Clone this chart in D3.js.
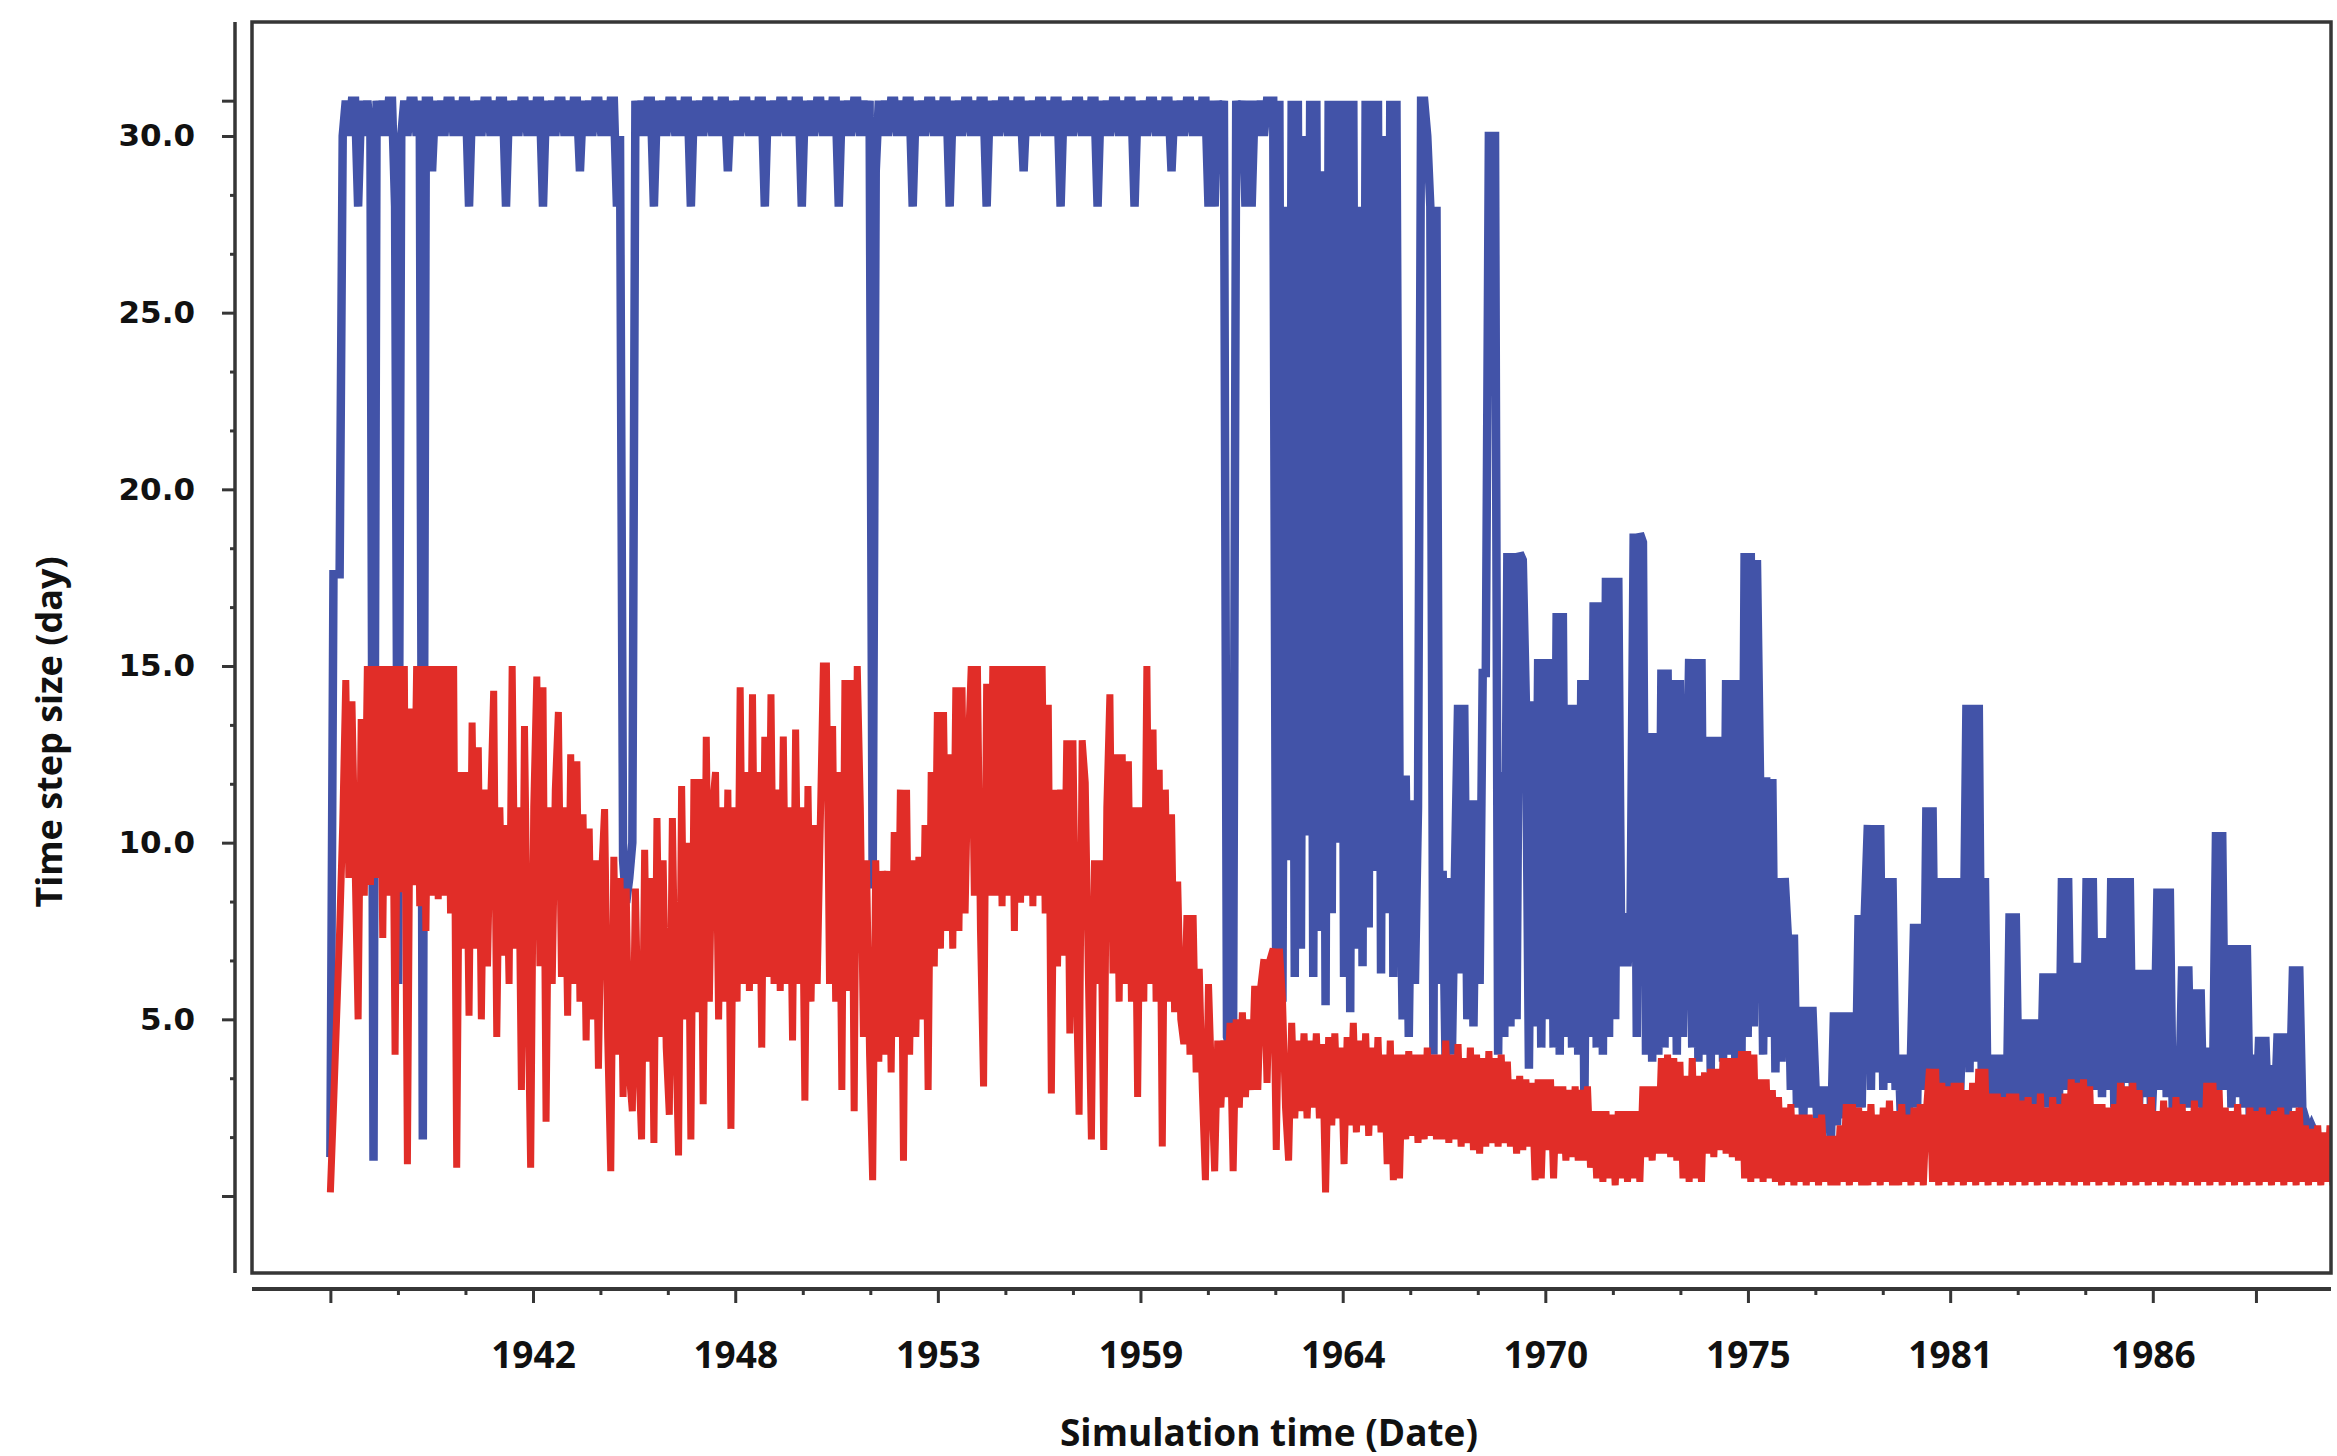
<!DOCTYPE html>
<html>
<head>
<meta charset="utf-8">
<script src="https://cdn.jsdelivr.net/npm/d3@7"></script>
<style>
  html, body { margin: 0; padding: 0; background: #fff; }
  svg { display: block; }
</style>
</head>
<body>
<svg id="chart" width="2337" height="1456"></svg>
<script>
// time step sizes, one sample per month from May 1937 (decimal years)
var sampleStart = 1937.34;
var sampleStep = 1 / 12;

// blue run, one row per year (May..Apr)
var blueValues = [
  1.1,17.6,17.6,17.6,30,31,30,31,31,28,31,30,
  31,30,1.0,31,30,31,30,31,31,28,6.0,30,
  31,30,31,31,30,31,1.6,31,31,29,31,30,
  31,30,31,31,30,31,30,31,31,28,31,30,
  31,30,31,31,30,31,30,31,31,28,31,30,
  31,30,31,31,30,31,30,31,31,28,31,30,
  31,30,31,31,30,31,30,31,31,29,31,30,
  31,30,31,31,30,31,30,31,31,28,30,9.5,
  8.3,9.0,10,31,30,31,30,31,31,28,31,30,
  31,30,31,31,30,31,30,31,31,28,31,30,
  31,30,31,31,30,31,30,31,31,29,31,30,
  31,30,31,31,30,31,30,31,31,28,31,30,
  31,30,31,31,30,31,30,31,31,28,31,30,
  31,30,31,31,30,31,30,31,31,28,31,30,
  31,30,31,31,30,31,30,31,8.7,29,31,30,
  31,30,31,31,30,31,30,31,31,28,31,30,
  31,30,31,31,30,31,30,31,31,28,31,30,
  31,30,31,31,30,31,30,31,31,28,31,30,
  31,30,31,31,30,31,30,31,31,29,31,30,
  31,30,31,31,30,31,30,31,31,28,31,30,
  31,30,31,31,30,31,30,31,31,28,31,30,
  31,30,31,31,30,31,30,31,31,28,31,30,
  31,30,31,31,30,31,30,31,31,29,31,30,
  31,30,31,31,30,31,30,31,31,28,31,28,
  31,30,31,4.5,4.2,5.0,31,30,31,28,31,28,
  31,30,31,30,31,31,31,5.2,31,5.5,28,9.5,
  31,6.2,31,7.0,30,10.2,31,6.2,31,7.5,29,5.4,
  31,8.0,31,10.0,31,6.2,31,5.2,31,7.0,28,6.5,
  31,7.6,31,9.2,31,6.3,30,8.0,31,6.2,31,11.5,
  5.0,11.9,4.5,11.2,6.0,11.0,31,31,30,28,4.0,28,
  6.0,9.2,3.5,9.0,4.0,9.2,13.9,6.3,13.9,5.0,11.2,4.8,
  11.2,6.0,14.8,14.8,30,30,30,4.0,12.0,4.5,18.2,4.8,
  18.2,5.0,18.2,18.0,14.0,3.6,14.0,4.8,15.2,4.2,15.2,5.0,
  15.2,4.2,16.5,4.0,16.5,4.5,13.9,4.2,13.9,4.0,14.6,2.4,
  14.6,4.5,16.8,4.2,16.8,4.0,17.5,4.5,17.5,5.0,17.5,6.5,
  8.0,6.5,8.0,18.75,4.5,18.75,18.5,4.0,13.1,3.8,13.1,4.0,
  14.9,4.2,14.9,4.5,14.6,4.0,14.6,4.5,10.0,15.2,4.2,15.2,
  3.8,15.2,4.0,13.0,3.5,13.0,4.0,13.0,3.8,14.6,4.0,14.6,
  3.5,14.6,4.0,18.2,4.5,18.2,4.8,18.0,11.85,4.0,11.85,4.5,
  11.8,3.5,9.0,3.8,9.0,7.4,3.0,7.4,2.5,5.35,2.0,5.35,
  2.5,5.35,3.1,1.5,3.1,1.8,3.1,1.5,5.2,2.0,5.2,2.2,
  5.2,2.0,5.2,2.5,7.95,2.5,7.95,10.5,3.0,10.5,3.5,10.5,
  3.0,9.0,3.2,9.0,3.0,4.0,1.5,4.0,2.0,4.0,7.7,2.5,
  7.7,3.0,11.0,3.0,11.0,3.5,9.0,3.0,9.0,2.8,9.0,3.0,
  9.0,3.0,6.0,13.9,3.5,13.9,3.8,13.9,3.0,9.0,1.5,4.0,
  1.8,4.0,1.5,4.0,2.0,8.0,2.5,8.0,2.5,3.0,5.0,2.0,
  5.0,2.2,5.0,2.5,6.3,2.5,6.3,2.8,6.3,2.5,9.0,3.0,
  9.0,3.0,6.6,2.5,6.6,3.0,9.0,3.0,9.0,3.0,7.3,2.8,
  7.3,3.0,9.0,2.5,9.0,3.0,9.0,3.2,9.0,3.0,6.4,2.5,
  6.4,2.8,6.4,2.0,4.0,8.7,3.0,8.7,2.8,8.7,2.0,4.2,
  2.5,6.5,2.5,6.5,2.5,5.85,2.5,5.85,2.0,4.2,2.0,3.0,
  10.3,3.0,10.3,3.0,7.1,2.5,7.1,2.8,7.1,2.5,7.1,2.0,
  4.0,2.2,4.5,2.0,4.5,2.0,3.7,2.2,4.6,2.0,4.6,2.2,
  3.0,6.5,2.5,6.5,2.5,2.2,1.8,2.0,1.8
];

// red run, same monthly grid
var redValues = [
  0.1,2.5,5.0,7.5,10.5,14.6,9.0,14.0,9.5,5.0,13.5,8.5,
  15,8.8,15,9.0,15,7.3,15,8.5,15,4.0,15,8.6,
  15,0.9,13.8,8.8,15,8.2,15,7.5,15,8.5,15,8.4,
  15,8.5,15,8.0,15,0.8,12.0,7.0,12.0,5.1,13.4,7.0,
  12.7,5.0,11.5,6.5,11.0,14.3,4.5,11.0,6.8,10.5,6.0,15.0,
  7.0,11.0,3.0,13.3,6.5,0.8,11.0,14.7,6.5,14.4,2.1,11.0,
  6.0,11.5,13.7,6.2,11.0,5.1,12.5,6.0,12.3,5.5,10.8,4.4,
  10.4,5.0,9.5,3.6,9.0,10.95,4.5,0.7,9.6,4.0,9.0,2.8,
  8.7,3.5,2.4,8.7,4.0,1.6,9.8,3.8,9.0,1.5,10.7,4.5,
  9.5,4.2,2.3,10.7,5.0,1.15,11.6,5.0,10.0,1.6,11.8,5.2,
  11.8,2.6,13.0,5.5,11.0,12.0,5.0,11.0,5.5,11.5,1.9,11.0,
  5.5,14.4,6.0,12.0,5.8,14.2,6.0,12.0,4.2,13.0,6.2,14.2,
  6.0,11.5,5.8,13.0,6.0,11.0,4.4,13.2,6.0,11.0,2.7,11.6,
  5.5,10.5,6.0,10.5,15.0,15.0,6.0,13.3,5.5,12.0,3.0,14.6,
  5.8,14.6,2.4,15.0,11.0,4.5,9.5,4.0,0.45,9.5,3.8,9.2,
  4.0,9.2,3.5,10.3,4.5,11.5,1.0,11.5,4.0,9.5,4.5,9.6,
  5.0,10.5,3.0,12.0,6.5,13.7,7.0,13.7,7.5,12.5,7.0,14.4,
  7.5,14.4,8.0,12.5,15.0,8.5,15.0,7.5,3.1,14.5,8.5,15.0,
  8.5,15.0,8.2,15.0,8.5,15.0,7.5,15.0,8.3,15.0,8.5,15.0,
  8.2,15.0,8.5,15.0,8.0,13.9,2.9,11.5,6.5,11.5,6.8,12.9,
  4.6,12.9,6.5,2.3,12.9,11.7,6.3,1.6,9.5,6.0,9.5,1.3,
  11.0,14.2,6.3,12.5,5.5,12.5,6.0,12.3,5.5,11.0,2.8,11.0,
  5.5,15.0,6.0,13.2,5.5,12.06,1.4,11.5,5.5,10.8,5.2,8.9,
  5.0,4.3,7.95,4.0,7.95,3.5,6.43,3.0,0.45,6.0,3.2,0.7,
  4.4,2.5,4.4,2.8,4.9,0.7,5.0,2.5,5.2,2.8,5.0,3.0,
  5.95,3.0,5.95,6.7,3.2,6.7,7.0,1.3,7.0,5.6,2.5,1.0,
  4.9,2.2,4.4,2.4,4.6,2.2,4.4,2.5,4.6,2.2,4.3,0.1,
  4.5,2.0,4.6,2.2,4.2,0.9,4.5,2.0,4.9,1.8,4.4,2.0,
  4.6,1.7,4.2,2.0,4.5,1.8,4.0,0.9,4.4,0.45,4.0,0.5,
  4.0,1.6,4.1,1.7,4.0,1.5,4.0,1.6,4.2,1.7,4.0,1.6,
  4.0,1.6,4.4,1.5,4.0,1.6,4.3,1.4,3.9,1.5,4.2,1.3,
  4.0,1.2,3.9,1.4,4.1,1.5,3.9,1.4,4.0,1.5,3.8,1.4,
  3.3,1.2,3.4,1.3,3.3,1.4,3.2,0.45,3.3,0.5,3.3,1.3,
  3.3,0.5,3.1,1.2,3.1,1.0,3.0,1.1,3.1,1.0,3.0,1.0,
  3.1,0.8,2.4,0.5,2.4,0.4,2.4,0.5,2.3,0.3,2.4,0.5,
  2.4,0.4,2.4,0.5,2.4,0.4,3.1,1.1,3.1,1.0,3.1,1.2,
  3.9,1.2,4.0,1.1,3.9,1.0,3.8,0.5,3.4,0.4,3.9,0.5,
  3.4,0.4,3.5,1.2,3.6,1.1,3.6,1.3,3.9,1.2,3.9,1.1,
  3.9,1.0,4.1,0.5,4.1,0.4,4.0,0.5,3.3,0.4,3.3,0.5,
  3.0,0.4,2.8,0.3,2.5,0.4,2.6,0.3,2.3,0.4,2.3,0.3,
  2.3,0.4,2.2,0.3,2.3,0.4,1.7,0.3,1.7,0.3,2.0,0.4,
  2.6,0.3,2.6,0.4,2.5,0.3,2.4,0.3,2.6,0.4,2.3,0.3,
  2.5,0.4,2.7,0.3,2.4,0.3,2.6,0.4,2.3,0.3,2.5,0.4,
  2.6,0.3,2.4,3.6,0.4,3.6,0.3,3.2,0.4,3.1,0.3,3.2,
  0.4,3.2,0.3,3.0,0.4,3.2,0.3,3.6,0.4,3.6,0.3,2.9,
  0.4,2.9,0.3,2.8,0.4,2.9,0.3,2.9,0.4,2.7,0.3,2.8,
  0.4,2.6,0.3,2.9,0.4,2.5,0.3,2.8,0.4,2.6,0.3,2.9,
  0.4,3.3,0.3,3.2,0.4,3.3,0.3,3.1,0.4,2.6,0.3,2.6,
  0.4,2.5,0.3,2.6,0.4,3.2,0.3,3.1,0.4,3.2,0.3,3.0,
  0.4,2.6,0.3,2.8,0.4,2.4,0.3,2.7,0.4,2.5,0.3,2.8,
  0.4,2.6,0.3,2.4,0.4,2.7,0.3,2.5,0.4,3.2,0.3,3.2,
  0.4,3.0,0.3,2.5,0.4,2.4,0.3,2.6,0.4,2.3,0.3,2.5,
  0.4,2.4,0.3,2.5,0.4,2.3,0.3,2.4,0.4,2.5,0.3,2.3,
  0.4,2.4,0.3,2.5,0.4,2.0,0.3,1.9,0.4,2.0,0.3,1.8,
  0.4,2.0,0.3,1.9
];

// x axis: major ticks every 2000 days from the start, labelled with the year
var xTickYears  = [1937.34, 1942.82, 1948.29, 1953.77, 1959.25, 1964.72, 1970.2, 1975.68, 1981.15, 1986.63, 1989.42];
var xTickLabels = ["", "1942", "1948", "1953", "1959", "1964", "1970", "1975", "1981", "1986", ""];
var xDomain = [1935.22, 1991.45];

var yTickValues = [0, 5, 10, 15, 20, 25, 30, 31];
var yTickLabels = ["", "5.0", "10.0", "15.0", "20.0", "25.0", "30.0", ""];

var svg = d3.select("#chart"),
    box = {left: 252, right: 2331, top: 22, bottom: 1273},
    axisColor = "#363636";

svg.append("rect").attr("width", 2337).attr("height", 1456).attr("fill", "#fff");

var x = d3.scaleLinear().domain(xDomain).range([box.left, box.right]);
var y = d3.scaleLinear().domain([0, 30]).range([1196, 136]);

svg.append("defs").append("clipPath").attr("id", "plotclip")
  .append("rect")
    .attr("x", box.left).attr("y", box.top)
    .attr("width", box.right - box.left).attr("height", box.bottom - box.top);

var line = d3.line()
    .x(function(d, i) { return x(sampleStart + i * sampleStep); })
    .y(function(d) { return y(d); });

var plot = svg.append("g").attr("clip-path", "url(#plotclip)");

plot.append("path")
    .datum(blueValues)
    .attr("fill", "none")
    .attr("stroke", "#4253a8")
    .attr("stroke-width", 8.5)
    .attr("d", line);

plot.append("path")
    .datum(redValues)
    .attr("fill", "none")
    .attr("stroke", "#e12d28")
    .attr("stroke-width", 7)
    .attr("d", line);

// frame around the plot
svg.append("rect")
    .attr("x", box.left).attr("y", box.top)
    .attr("width", box.right - box.left).attr("height", box.bottom - box.top)
    .attr("fill", "none")
    .attr("stroke", axisColor)
    .attr("stroke-width", 3.5);

// y axis, drawn detached to the left of the frame
var yAxisX = 235;
svg.append("line")
    .attr("x1", yAxisX).attr("x2", yAxisX)
    .attr("y1", box.top).attr("y2", box.bottom)
    .attr("stroke", axisColor).attr("stroke-width", 3.5);

var yMinor = [];
yTickValues.slice(0, 6).forEach(function(v) {
  yMinor.push(v + 5 / 3, v + 10 / 3);
});

svg.append("g")
    .attr("transform", "translate(" + yAxisX + ",0)")
    .style("color", axisColor)
    .call(d3.axisLeft(y).tickValues(yMinor).tickSize(5).tickFormat(""))
    .call(function(g) { g.select(".domain").remove(); })
    .selectAll("line").attr("stroke-width", 3);

var yAxis = svg.append("g")
    .attr("transform", "translate(" + yAxisX + ",0)")
    .style("color", axisColor)
    .call(d3.axisLeft(y).tickValues(yTickValues).tickSize(13).tickPadding(27)
      .tickFormat(function(d, i) { return yTickLabels[i]; }))
    .call(function(g) { g.select(".domain").remove(); });

yAxis.selectAll("line").attr("stroke-width", 3);
yAxis.selectAll("text")
    .attr("fill", "#111")
    .attr("font-family", "'DejaVu Sans', sans-serif")
    .attr("font-weight", "bold")
    .attr("font-size", 31);

// x axis, drawn detached below the frame
var xAxisY = 1289;
svg.append("line")
    .attr("x1", box.left).attr("x2", box.right)
    .attr("y1", xAxisY).attr("y2", xAxisY)
    .attr("stroke", axisColor).attr("stroke-width", 4);

var xMinor = [];
for (var k = 0; k < 9; k++) {
  var a = xTickYears[k], b = xTickYears[k + 1];
  xMinor.push(a + (b - a) / 3, a + 2 * (b - a) / 3);
}

svg.append("g")
    .attr("transform", "translate(0," + xAxisY + ")")
    .style("color", axisColor)
    .call(d3.axisBottom(x).tickValues(xMinor).tickSize(6).tickFormat(""))
    .call(function(g) { g.select(".domain").remove(); })
    .selectAll("line").attr("stroke-width", 3);

var xAxis = svg.append("g")
    .attr("transform", "translate(0," + xAxisY + ")")
    .style("color", axisColor)
    .call(d3.axisBottom(x).tickValues(xTickYears).tickSize(14).tickPadding(39)
      .tickFormat(function(d, i) { return xTickLabels[i]; }))
    .call(function(g) { g.select(".domain").remove(); });

xAxis.selectAll("line").attr("stroke-width", 3);
xAxis.selectAll("text")
    .attr("fill", "#111")
    .attr("font-family", "'Open Sans', sans-serif")
    .attr("font-weight", "bold")
    .attr("font-size", 37);

// axis titles
svg.append("text")
    .attr("x", 1269)
    .attr("y", 1446)
    .attr("text-anchor", "middle")
    .attr("fill", "#111")
    .attr("font-family", "'Open Sans', sans-serif")
    .attr("font-weight", "bold")
    .attr("font-size", 37)
    .text("Simulation time (Date)");

svg.append("text")
    .attr("transform", "translate(62,732) rotate(-90)")
    .attr("text-anchor", "middle")
    .attr("fill", "#111")
    .attr("font-family", "'Open Sans', sans-serif")
    .attr("font-weight", "bold")
    .attr("font-size", 36)
    .text("Time step size (day)");
</script>
</body>
</html>
